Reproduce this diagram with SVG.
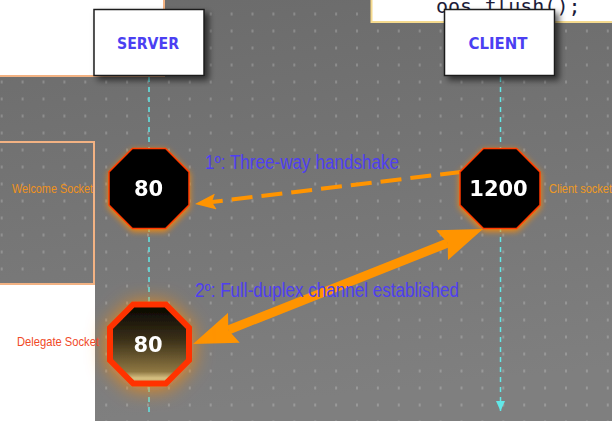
<svg xmlns="http://www.w3.org/2000/svg" width="612" height="421" viewBox="0 0 612 421">
<style>
.bg{fill:url(#bgGrad)}
.white{fill:#ffffff}
.tan{fill:none;stroke:#f2b283;stroke-width:2}
.life{fill:none;stroke:#62e8e8;stroke-width:1.5;stroke-dasharray:5 5}
.box{fill:#ffffff;stroke:#1e1e1e;stroke-width:1.5}
.boxtxt{font-family:"DejaVu Sans",sans-serif;font-weight:bold;font-size:15.5px;fill:#4b3ff2;text-anchor:middle}
.oct{fill:#000000;stroke:#ff3a00;stroke-width:1.5}
.num{font-family:"DejaVu Sans",sans-serif;font-weight:bold;font-size:21px;fill:#ffffff;text-anchor:middle}
.msg{font-family:"Liberation Sans",sans-serif;font-size:19.5px;fill:#4f3ff0}
.side{font-family:"Liberation Sans",sans-serif;font-size:13px}
.dash{fill:none;stroke:#ff9400;stroke-width:4;stroke-dasharray:21 9}
.thick{fill:none;stroke:#ff9400;stroke-width:9}
.code{font-family:"DejaVu Sans Mono",monospace;font-size:20px;fill:#1c1c3a}
</style>
<defs>
<linearGradient id="bgGrad" x1="0" y1="0" x2="0.15" y2="1">
<stop offset="0" stop-color="#6b6b6b"/>
<stop offset="1" stop-color="#7f7f7f"/>
</linearGradient>
<pattern id="dots" patternUnits="userSpaceOnUse" x="0.7" y="12.5" width="20.9" height="17">
<rect width="2" height="3" fill="#ffffff" fill-opacity="0.2"/>
</pattern>
<linearGradient id="delegGrad" x1="0" y1="0" x2="0" y2="1">
<stop offset="0" stop-color="#050400"/>
<stop offset="0.45" stop-color="#3c3119"/>
<stop offset="0.85" stop-color="#8e7742"/>
<stop offset="0.93" stop-color="#d6bf80"/>
<stop offset="1" stop-color="#c2a86a"/>
</linearGradient>
<filter id="glow" x="-30%" y="-30%" width="160%" height="160%">
<feGaussianBlur in="SourceAlpha" stdDeviation="3" result="b"/>
<feOffset in="b" dy="2" result="o"/>
<feFlood flood-color="#ff8a00" flood-opacity="0.95"/>
<feComposite in2="o" operator="in" result="g"/>
<feMerge><feMergeNode in="g"/><feMergeNode in="SourceGraphic"/></feMerge>
</filter>
<filter id="bigglow" x="-60%" y="-60%" width="220%" height="220%">
<feGaussianBlur in="SourceAlpha" stdDeviation="10" result="b"/>
<feOffset in="b" dy="2" result="o"/>
<feFlood flood-color="#ff8a10" flood-opacity="0.9"/>
<feComposite in2="o" operator="in" result="g"/>
<feMerge><feMergeNode in="g"/><feMergeNode in="SourceGraphic"/></feMerge>
</filter>
<filter id="shadow" x="-20%" y="-20%" width="150%" height="160%">
<feDropShadow dx="4" dy="4" stdDeviation="3" flood-color="#000000" flood-opacity="0.6"/>
</filter>
<path id="octSmall" d="M-16.57,-40 L16.57,-40 L40,-16.57 L40,16.57 L16.57,40 L-16.57,40 L-40,16.57 L-40,-16.57 Z"/>
<marker id="headThick" markerUnits="userSpaceOnUse" viewBox="0 0 44 32" markerWidth="44" markerHeight="32" refX="6" refY="16" orient="auto-start-reverse">
<path d="M0,0 L44,16 L0,32 L6,16 Z" fill="#ff9400"/>
</marker>
<marker id="headDash" markerUnits="userSpaceOnUse" viewBox="0 0 21 16" markerWidth="21" markerHeight="16" refX="4" refY="8" orient="auto">
<path d="M0,0 L21,8 L0,16 L4,8 Z" fill="#ff9400"/>
</marker>
<marker id="headLife" markerUnits="userSpaceOnUse" viewBox="0 0 9 10" markerWidth="9" markerHeight="10" refX="4.5" refY="10" orient="0">
<path d="M0,0 L9,0 L4.5,10 Z" fill="#62e8e8"/>
</marker>
</defs>

<g id="background">
<rect class="bg" x="0" y="0" width="612" height="421"/>
<rect fill="url(#dots)" x="0" y="0" width="612" height="421"/>
<rect class="white" x="0" y="0" width="164" height="76"/>
<path class="tan" d="M164,0 L164,76 L0,76"/>
<rect class="white" x="0" y="284" width="95" height="140"/>
<path class="tan" d="M0,142 L94,142 L94,284 L0,284"/>
<rect x="371.5" y="-3" width="245" height="25" fill="#ffffff" stroke="#f5da8e" stroke-width="2"/>
<text class="code" x="436" y="13">oos.flush();</text>
</g>

<g id="lifelines">
<path class="life" d="M149,77 L149,412"/>
<path class="life" d="M500.5,77 L500.5,411" marker-end="url(#headLife)"/>
</g>

<g id="server">
<rect class="box" x="94" y="9.5" width="110" height="66" filter="url(#shadow)"/>
<text class="boxtxt" x="148" y="49" textLength="62" lengthAdjust="spacingAndGlyphs">SERVER</text>
</g>

<g id="client">
<rect class="box" x="444.5" y="9.5" width="110" height="66" filter="url(#shadow)"/>
<text class="boxtxt" x="498" y="49" textLength="59" lengthAdjust="spacingAndGlyphs">CLIENT</text>
</g>

<g id="connectors">
<path class="dash" d="M461,172 L211.88,201.97" marker-end="url(#headDash)"/>
<path class="thick" d="M228.32,329.99 L447.68,243.01" marker-start="url(#headThick)" marker-end="url(#headThick)"/>
</g>

<g id="welcome-socket" filter="url(#glow)">
<use href="#octSmall" class="oct" transform="translate(149,188.5)"/>
<text class="num" x="148.5" y="195.5">80</text>
</g>

<g id="client-socket" filter="url(#glow)">
<use href="#octSmall" class="oct" transform="translate(500,188.5)"/>
<text class="num" x="498.5" y="195.5">1200</text>
</g>

<g id="delegate-socket" filter="url(#bigglow)">
<path d="M133.14,304.5 L165.86,304.5 L189,327.64 L189,360.36 L165.86,383.5 L133.14,383.5 L110,360.36 L110,327.64 Z" fill="url(#delegGrad)" stroke="#ff3300" stroke-width="6"/>
<text class="num" x="148" y="351.5">80</text>
</g>

<g id="labels">
<text class="msg" x="205" y="169" textLength="194" lengthAdjust="spacingAndGlyphs">1º: Three-way handshake</text>
<text class="msg" x="195" y="296.5" textLength="264" lengthAdjust="spacingAndGlyphs">2º: Full-duplex channel established</text>
<text class="side" x="12" y="193" fill="#f0921c" textLength="81" lengthAdjust="spacingAndGlyphs">Welcome Socket</text>
<text class="side" x="549" y="193" fill="#f09a22" textLength="63" lengthAdjust="spacingAndGlyphs">Client socket</text>
<text class="side" x="17" y="346" fill="#f04a28" textLength="82" lengthAdjust="spacingAndGlyphs">Delegate Socket</text>
</g>
</svg>
